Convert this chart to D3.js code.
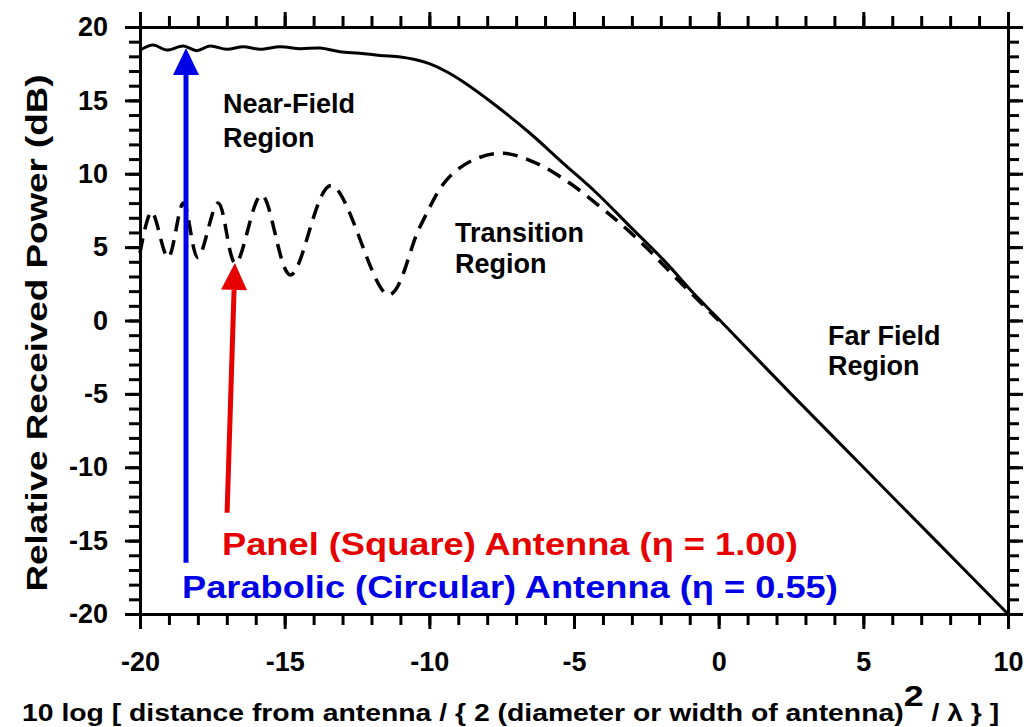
<!DOCTYPE html>
<html>
<head>
<meta charset="utf-8">
<script src="https://cdn.jsdelivr.net/npm/d3@7/dist/d3.min.js"></script>
<style>
  body { margin: 0; background: #ffffff; }
  text { font-family: "Liberation Sans", Arial, sans-serif; font-weight: bold; }
</style>
</head>
<body>
<div id="chart"></div>
<script>
// tick labels
var xTickLabels = [-20, -15, -10, -5, 0, 5, 10];
var yTickLabels = [-20, -15, -10, -5, 0, 5, 10, 15, 20];

// solid curve
var solidX = [-20, -19.54, -19.08, -18.5, -18.04, -17.58, -17.0, -16.43, -15.85, -15.16, -14.47, -13.78, -13.09, -12.4, -11.7, -11.0, -10.5, -10.0, -9.4, -8.82, -7.67, -6.52, -5.37, -4.21, -3.06, -1.91, -0.76, 0, 2.5, 5, 7.5, 10];
var solidY = [18.43, 18.77, 18.43, 18.70, 18.39, 18.70, 18.48, 18.66, 18.48, 18.66, 18.52, 18.57, 18.32, 18.21, 18.06, 17.95, 17.78, 17.5, 16.95, 16.25, 14.6, 12.76, 10.71, 8.67, 6.40, 4.13, 1.63, 0.1, -5, -10, -15, -20];

// dashed curve
var dashX = [-20, -19.6, -19.03, -18.5, -18.0, -17.3, -16.7, -15.8, -14.8, -13.4, -11.4, -10.32, -9.4, -8.48, -7.44, -6.29, -5.14, -4.1, -3.41, -2.49, -1.5, 0];
var dashY = [4.6, 7.4, 4.3, 8.0, 4.3, 8.0, 3.9, 8.55, 3.1, 9.2, 1.75, 6.4, 9.58, 10.94, 11.39, 10.71, 9.35, 7.76, 6.63, 4.95, 2.95, 0];

// arrows: [x start, y start, x tip, y tip]
var blueArrow = [-18.41, -16.5, -18.41, 18.57];
var redArrow = [-16.99, -13.1, -16.72, 3.92];

var w = 1028, h = 727;
var padLeft = 140, padRight = 1008, padTop = 27, padBottom = 614;

var svg = d3.select("#chart").append("svg").attr("width", w).attr("height", h).style("background", "#ffffff");

var x = d3.scaleLinear().domain([-20, 10]).range([padLeft, padRight]);
var y = d3.scaleLinear().domain([-20, 20]).range([padBottom, padTop]);

var minorX = d3.range(-20, 11, 1);
var minorY = d3.range(-20, 21, 1);

function styleAxis(g) {
    g.select(".domain").attr("stroke", "#000").attr("stroke-width", 3);
    g.selectAll(".tick line").attr("stroke", "#000").attr("stroke-width", 3);
    g.selectAll(".tick text").style("font-size", "27px").style("fill", "#000");
}

// minor ticks
svg.append("g").attr("transform", "translate(0," + padBottom + ")")
    .call(d3.axisBottom(x).tickValues(minorX).tickSize(11).tickSizeOuter(0).tickFormat("")).call(styleAxis);
svg.append("g").attr("transform", "translate(0," + padTop + ")")
    .call(d3.axisTop(x).tickValues(minorX).tickSize(11).tickSizeOuter(0).tickFormat("")).call(styleAxis);
svg.append("g").attr("transform", "translate(" + padLeft + ",0)")
    .call(d3.axisLeft(y).tickValues(minorY).tickSize(11).tickSizeOuter(0).tickFormat("")).call(styleAxis);
svg.append("g").attr("transform", "translate(" + padRight + ",0)")
    .call(d3.axisRight(y).tickValues(minorY).tickSize(11).tickSizeOuter(0).tickFormat("")).call(styleAxis);

// major ticks
svg.append("g").attr("transform", "translate(0," + padBottom + ")")
    .call(d3.axisBottom(x).tickValues(xTickLabels).tickSize(15).tickSizeOuter(0).tickPadding(23).tickFormat(function (d) { return String(d); })).call(styleAxis);
svg.append("g").attr("transform", "translate(0," + padTop + ")")
    .call(d3.axisTop(x).tickValues(xTickLabels).tickSize(15).tickSizeOuter(0).tickFormat("")).call(styleAxis);
svg.append("g").attr("transform", "translate(" + padLeft + ",0)")
    .call(d3.axisLeft(y).tickValues(yTickLabels).tickSize(15).tickSizeOuter(0).tickPadding(17).tickFormat(function (d) { return String(d); })).call(styleAxis);
svg.append("g").attr("transform", "translate(" + padRight + ",0)")
    .call(d3.axisRight(y).tickValues(yTickLabels).tickSize(15).tickSizeOuter(0).tickFormat("")).call(styleAxis);

// curves
var line = d3.line().x(function (d) { return x(d[0]); }).y(function (d) { return y(d[1]); }).curve(d3.curveCatmullRom.alpha(0.5));

svg.append("path").attr("d", line(d3.zip(dashX, dashY)))
    .attr("fill", "none").attr("stroke", "#000").attr("stroke-width", 3.5).attr("stroke-dasharray", "15,9");
svg.append("path").attr("d", line(d3.zip(solidX, solidY)))
    .attr("fill", "none").attr("stroke", "#000").attr("stroke-width", 3);

// arrows
function drawArrow(a, color) {
    var x0 = x(a[0]), y0 = y(a[1]), x1 = x(a[2]), y1 = y(a[3]);
    var len = Math.sqrt((x1 - x0) * (x1 - x0) + (y1 - y0) * (y1 - y0));
    var ux = (x1 - x0) / len, uy = (y1 - y0) / len;
    var headL = 27, headW = 13;
    var bx = x1 - ux * headL, by = y1 - uy * headL;
    svg.append("line").attr("x1", x0).attr("y1", y0).attr("x2", bx).attr("y2", by)
        .attr("stroke", color).attr("stroke-width", 5);
    svg.append("path")
        .attr("d", "M" + x1 + "," + y1 + "L" + (bx - uy * headW) + "," + (by + ux * headW) + "L" + (bx + uy * headW) + "," + (by - ux * headW) + "Z")
        .attr("fill", color);
}
drawArrow(blueArrow, "#0000e6");
drawArrow(redArrow, "#e60000");

// region labels
function label(lines, xp, ys) {
    lines.forEach(function (t, i) {
        svg.append("text").attr("x", xp).attr("y", ys[i]).style("font-size", "27px").style("fill", "#000").text(t);
    });
}
label(["Near-Field", "Region"], 223, [113, 147]);
label(["Transition", "Region"], 455, [242, 273]);
label(["Far Field", "Region"], 828, [345, 375]);

// stretched text helper
function stretched(t, xp, yp, size, width, color, rot) {
    var el = svg.append("text").attr("x", 0).attr("y", 0).style("font-size", size + "px").style("fill", color).text(t);
    if (rot) el.attr("text-anchor", "middle");
    var len = el.node().getComputedTextLength();
    var s = width / len;
    el.attr("transform", "translate(" + xp + "," + yp + ")" + (rot ? " rotate(-90)" : "") + " scale(" + s + ",1)");
    return el;
}
stretched("Panel (Square) Antenna (\u03b7 = 1.00)", 222, 555, 31, 576, "#e60000");
stretched("Parabolic (Circular) Antenna (\u03b7 = 0.55)", 182, 598, 31, 656, "#0000e6");
stretched("Relative Received Power (dB)", 47, 333, 30, 517, "#000", true);

// x axis title with superscript
var xt = svg.append("text").attr("x", 0).attr("y", 0).style("font-size", "23px").style("fill", "#000");
xt.append("tspan").text("10 log [ distance from antenna / { 2 (diameter or width of antenna)");
xt.append("tspan").attr("dy", -15).style("font-size", "29px").text("2");
xt.append("tspan").attr("dy", 15).text(" / \u03bb } ]");
var xw = xt.node().getBBox().width;
xt.attr("transform", "translate(22,721) scale(" + (978 / xw) + ",1)");
</script>
</body>
</html>
